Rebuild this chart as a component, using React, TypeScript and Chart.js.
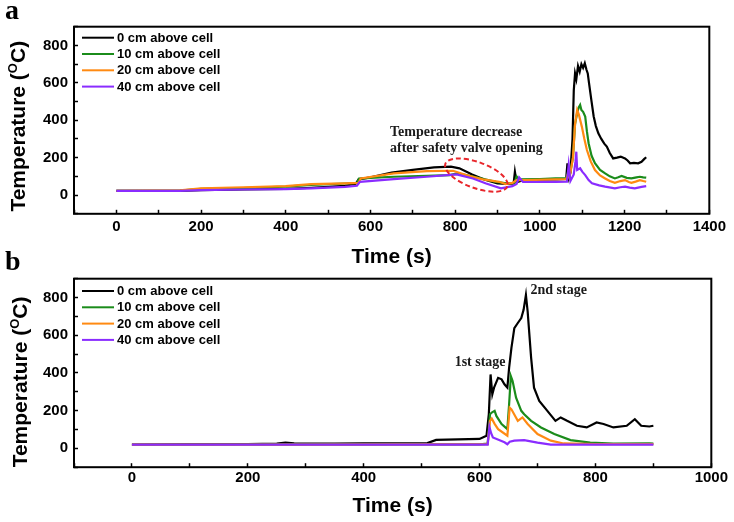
import React, { useEffect, useRef } from 'react';
import { Chart, registerables } from 'chart.js';

Chart.register(...registerables);

// ---------- shared ----------
const seriesLabels = ['0 cm above cell', '10 cm above cell', '20 cm above cell', '40 cm above cell'];
const seriesColors = ['#000000', '#1b8c1b', '#ff8a12', '#8a2cff'];
const yTickLabels = [0, 200, 400, 600, 800];

// ---------- panel a ----------
const xTickLabelsA = [0, 200, 400, 600, 800, 1000, 1200, 1400];
const timeA0 = [0, 100, 150, 200, 300, 400, 450, 500, 540, 565, 572, 600, 650, 700, 750, 790, 810, 840, 870, 900, 925, 938, 941, 945, 960, 1000, 1040, 1062, 1065, 1068, 1072, 1077, 1080, 1083, 1086, 1090, 1094, 1098, 1102, 1106, 1110, 1113, 1116, 1122, 1127, 1132, 1138, 1145, 1152, 1158, 1165, 1173, 1182, 1191, 1197, 1201, 1207, 1213, 1222, 1232, 1240, 1246, 1251];
const tempA0 = [22, 22, 23, 27, 30, 33, 38, 44, 50, 60, 84, 95, 120, 135, 148, 152, 143, 110, 82, 63, 60, 62, 125, 68, 80, 82, 84, 86, 170, 92, 120, 300, 560, 650, 620, 690, 660, 700, 680, 705, 670, 650, 598, 500, 420, 370, 330, 300, 275, 259, 225, 196, 200, 205, 200, 196, 185, 170, 172, 170, 178, 192, 202];
const timeA1 = [0, 150, 200, 300, 400, 460, 540, 568, 573, 600, 655, 733, 787, 805, 820, 850, 896, 925, 940, 945, 951, 1000, 1037, 1062, 1066, 1070, 1078, 1083, 1088, 1092, 1095, 1098, 1102, 1107, 1111, 1115, 1122, 1130, 1142, 1154, 1165, 1177, 1185, 1193, 1205, 1216, 1228, 1236, 1244, 1251];
const tempA1 = [22, 24, 34, 38, 45, 55, 62, 65, 88, 92, 98, 103, 107, 116, 110, 95, 71, 62, 66, 100, 84, 86, 89, 90, 120, 100, 200, 380, 440, 470, 482, 455, 445, 420, 340, 277, 210, 170, 135, 116, 100, 89, 95, 102, 92, 89, 95, 98, 95, 93];
const timeA2 = [0, 150, 200, 300, 400, 460, 540, 572, 577, 655, 733, 795, 826, 865, 904, 919, 935, 945, 967, 1037, 1062, 1066, 1070, 1078, 1083, 1088, 1092, 1099, 1105, 1111, 1120, 1130, 1142, 1154, 1165, 1177, 1190, 1201, 1210, 1216, 1226, 1236, 1244, 1251];
const tempA2 = [22, 26, 36, 42, 48, 59, 63, 65, 89, 116, 128, 130, 107, 84, 71, 59, 65, 80, 80, 84, 85, 110, 90, 200, 380, 455, 430, 366, 300, 241, 180, 134, 105, 89, 75, 66, 75, 80, 70, 66, 72, 80, 75, 71];
const timeA3 = [0, 150, 200, 300, 400, 460, 540, 568, 575, 655, 733, 803, 842, 873, 908, 935, 945, 951, 960, 1037, 1064, 1068, 1072, 1080, 1084, 1086, 1088, 1095, 1100, 1107, 1115, 1123, 1140, 1154, 1177, 1190, 1201, 1212, 1224, 1240, 1251];
const tempA3 = [22, 22, 27, 30, 32, 36, 44, 50, 71, 85, 98, 111, 89, 62, 36, 48, 60, 95, 70, 71, 72, 161, 75, 110, 180, 232, 134, 143, 125, 107, 80, 63, 52, 45, 36, 42, 45, 40, 36, 44, 48];
const noteLinesA = ['Temperature decrease', 'after safety valve opening'];
const noteXA = 646;
const noteYA = [336, 250];
const ellipseCenterA = { x: 850, y: 107 };

// ---------- panel b ----------
const xTickLabelsB = [0, 200, 400, 600, 800, 1000];
const timeB0 = [0, 100, 200, 250, 265, 280, 350, 400, 450, 510, 525, 600, 612, 616, 619, 622, 625, 632, 638, 643, 648, 651, 655, 660, 666, 672, 676, 680, 683, 689, 694, 703, 717, 731, 740, 751, 768, 785, 802, 814, 831, 854, 868, 879, 893, 900];
const tempB0 = [20, 22, 23, 25, 30, 27, 25, 26, 27, 28, 45, 50, 67, 181, 392, 287, 322, 374, 366, 340, 322, 427, 533, 638, 665, 691, 735, 814, 726, 480, 322, 252, 199, 146, 164, 146, 120, 111, 137, 129, 111, 120, 155, 120, 116, 120];
const timeB1 = [0, 300, 600, 614, 618, 621, 626, 629, 638, 648, 651, 654, 657, 663, 672, 677, 689, 706, 729, 757, 791, 831, 893, 900];
const tempB1 = [20, 21, 21, 25, 181, 190, 199, 172, 129, 102, 234, 383, 357, 269, 199, 181, 146, 111, 76, 44, 30, 25, 26, 25];
const timeB2 = [0, 300, 614, 618, 621, 626, 632, 648, 652, 655, 666, 674, 683, 700, 723, 745, 800, 900];
const tempB2 = [20, 20, 22, 146, 158, 130, 102, 67, 216, 207, 146, 164, 129, 76, 41, 26, 22, 22];
const timeB3 = [0, 300, 614, 617, 620, 623, 643, 648, 652, 660, 677, 700, 723, 900];
const tempB3 = [20, 20, 20, 114, 80, 58, 32, 22, 35, 41, 44, 30, 20, 20];
const noteTextsB = ['1st stage', '2nd stage'];
const noteXB = [557, 688];
const noteYB = [457, 839];

const SANS = '"Liberation Sans", Arial, Helvetica, sans-serif';
const SERIF = '"Liberation Serif", "Times New Roman", serif';

type Note = { text: string; x: number; y: number };
type PanelSpec = {
  series: { t: number[]; v: number[] }[];
  xMin: number;
  xMax: number;
  xLabels: number[];
  canvasHeight: number;
  padTop: number;
  xAxisHeight: number;
  xLabelPad: number;
  xTitleOffset: number;
  yTitleX: number;
  yTitleDy: number;
  legendDy: number;
  panelLabel: string;
  panelLabelY: number;
  notes: Note[];
  ellipse?: { x: number; y: number };
};

function overlayPlugin(p: PanelSpec) {
  return {
    id: 'overlay',
    afterDraw(chart: any) {
      const ctx: CanvasRenderingContext2D = chart.ctx;
      const { left, right, top, bottom } = chart.chartArea;
      const xs = chart.scales.x;
      const ys = chart.scales.y;
      ctx.save();
      // frame
      ctx.strokeStyle = '#000';
      ctx.lineWidth = 2;
      ctx.strokeRect(left, top, right - left, bottom - top);

      // panel label
      ctx.fillStyle = '#000';
      ctx.font = `bold 28px ${SERIF}`;
      ctx.textAlign = 'left';
      ctx.textBaseline = 'alphabetic';
      ctx.fillText(p.panelLabel, 5, p.panelLabelY);

      // x title
      ctx.font = `bold 21px ${SANS}`;
      ctx.textAlign = 'center';
      ctx.textBaseline = 'middle';
      ctx.fillText('Time (s)', (left + right) / 2, bottom + p.xTitleOffset);

      // y title with superscript O
      const parts = [
        { t: 'Temperature (', size: 21, dy: 0 },
        { t: 'O', size: 13, dy: -8 },
        { t: 'C)', size: 21, dy: 0 },
      ];
      let total = 0;
      const widths = parts.map((pt) => {
        ctx.font = `bold ${pt.size}px ${SANS}`;
        const w = ctx.measureText(pt.t).width;
        total += w;
        return w;
      });
      ctx.translate(p.yTitleX, (top + bottom) / 2 + p.yTitleDy);
      ctx.rotate(-Math.PI / 2);
      ctx.textAlign = 'left';
      ctx.textBaseline = 'alphabetic';
      let cx = -total / 2;
      parts.forEach((pt, i) => {
        ctx.font = `bold ${pt.size}px ${SANS}`;
        ctx.fillText(pt.t, cx, pt.dy);
        cx += widths[i];
      });
      ctx.setTransform(chart.currentDevicePixelRatio, 0, 0, chart.currentDevicePixelRatio, 0, 0);

      // legend
      ctx.font = `bold 13px ${SANS}`;
      ctx.textAlign = 'left';
      ctx.textBaseline = 'middle';
      chart.data.datasets.forEach((ds: any, i: number) => {
        const y = top + p.legendDy + i * 16.3;
        ctx.strokeStyle = ds.borderColor;
        ctx.lineWidth = 2;
        ctx.beginPath();
        ctx.moveTo(left + 8, y);
        ctx.lineTo(left + 40, y);
        ctx.stroke();
        ctx.fillStyle = '#000';
        ctx.fillText(ds.label, left + 43, y + 0.5);
      });

      // notes
      ctx.font = `bold 14px ${SERIF}`;
      ctx.fillStyle = '#1a1a1a';
      ctx.textAlign = 'left';
      ctx.textBaseline = 'middle';
      p.notes.forEach((n) => {
        ctx.fillText(n.text, xs.getPixelForValue(n.x), ys.getPixelForValue(n.y));
      });

      // ellipse
      if (p.ellipse) {
        ctx.strokeStyle = '#e8262b';
        ctx.lineWidth = 2;
        ctx.setLineDash([5, 3]);
        ctx.beginPath();
        ctx.ellipse(
          xs.getPixelForValue(p.ellipse.x),
          ys.getPixelForValue(p.ellipse.y),
          33,
          13,
          (20 * Math.PI) / 180,
          0,
          Math.PI * 2
        );
        ctx.stroke();
        ctx.setLineDash([]);
      }
      ctx.restore();
    },
  };
}

function buildConfig(p: PanelSpec): any {
  const tickFont = { family: SANS, weight: 'bold' as const, size: 15 };
  return {
    type: 'line',
    data: {
      datasets: p.series.map((s, i) => ({
        label: seriesLabels[i],
        data: s.t.map((t, j) => ({ x: t, y: s.v[j] })),
        borderColor: seriesColors[i],
        backgroundColor: seriesColors[i],
        borderWidth: 2.2,
        pointRadius: 0,
        tension: 0,
        fill: false,
        order: 4 - i,
      })),
    },
    options: {
      responsive: false,
      animation: false,
      events: [],
      layout: { padding: { top: p.padTop, right: 19.3, left: 0, bottom: 0 } },
      plugins: {
        legend: { display: false },
        tooltip: { enabled: false },
        title: { display: false },
      },
      scales: {
        x: {
          type: 'linear',
          min: p.xMin,
          max: p.xMax,
          afterFit: (s: any) => {
            s.height = p.xAxisHeight;
          },
          ticks: {
            stepSize: 100,
            autoSkip: false,
            maxRotation: 0,
            padding: p.xLabelPad,
            color: '#000',
            font: tickFont,
            callback: (v: number) => (p.xLabels.includes(v) ? String(v) : ''),
          },
          grid: {
            drawOnChartArea: false,
            drawTicks: true,
            tickLength: -4,
            tickColor: '#000',
            tickWidth: 1.5,
          },
          border: { display: false },
        },
        y: {
          type: 'linear',
          min: -100,
          max: 900,
          afterFit: (s: any) => {
            s.width = 74;
          },
          ticks: {
            stepSize: 100,
            autoSkip: false,
            padding: 10,
            color: '#000',
            font: tickFont,
            callback: (v: number) => (yTickLabels.includes(v) ? String(v) : ''),
          },
          grid: {
            drawOnChartArea: false,
            drawTicks: true,
            tickLength: -4,
            tickColor: '#000',
            tickWidth: 1.5,
          },
          border: { display: false },
        },
      },
    },
    plugins: [overlayPlugin(p)],
  };
}

const panelA: PanelSpec = {
  series: [
    { t: timeA0, v: tempA0 },
    { t: timeA1, v: tempA1 },
    { t: timeA2, v: tempA2 },
    { t: timeA3, v: tempA3 },
  ],
  xMin: -100,
  xMax: 1400,
  xLabels: xTickLabelsA,
  canvasHeight: 270,
  padTop: 26.7,
  xAxisHeight: 56.2,
  xLabelPad: 8,
  xTitleOffset: 43,
  yTitleX: 25,
  yTitleDy: 6,
  legendDy: 11,
  panelLabel: 'a',
  panelLabelY: 18.5,
  notes: noteLinesA.map((text, i) => ({ text, x: noteXA, y: noteYA[i] })),
  ellipse: ellipseCenterA,
};

const panelB: PanelSpec = {
  series: [
    { t: timeB0, v: tempB0 },
    { t: timeB1, v: tempB1 },
    { t: timeB2, v: tempB2 },
    { t: timeB3, v: tempB3 },
  ],
  xMin: -100,
  xMax: 1000,
  xLabels: xTickLabelsB,
  canvasHeight: 278,
  padTop: 34.7,
  xAxisHeight: 54.8,
  xLabelPad: 6,
  xTitleOffset: 39.5,
  yTitleX: 27,
  yTitleDy: 9,
  legendDy: 12.3,
  panelLabel: 'b',
  panelLabelY: 26,
  notes: noteTextsB.map((text, i) => ({ text, x: noteXB[i], y: noteYB[i] })),
};

function Panel({ spec, top }: { spec: PanelSpec; top: number }) {
  const ref = useRef<HTMLCanvasElement>(null);
  useEffect(() => {
    if (!ref.current) return;
    const chart = new Chart(ref.current, buildConfig(spec));
    return () => chart.destroy();
  }, [spec]);
  return (
    <canvas
      ref={ref}
      width={734}
      height={spec.canvasHeight}
      style={{ position: 'absolute', left: 0, top, width: 734, height: spec.canvasHeight }}
    />
  );
}

export default function App() {
  return (
    <div
      style={{
        position: 'absolute',
        left: 0,
        top: 0,
        width: 734,
        height: 522,
        background: '#fff',
        overflow: 'hidden',
      }}
    >
      <Panel spec={panelA} top={0} />
      <Panel spec={panelB} top={244} />
    </div>
  );
}
